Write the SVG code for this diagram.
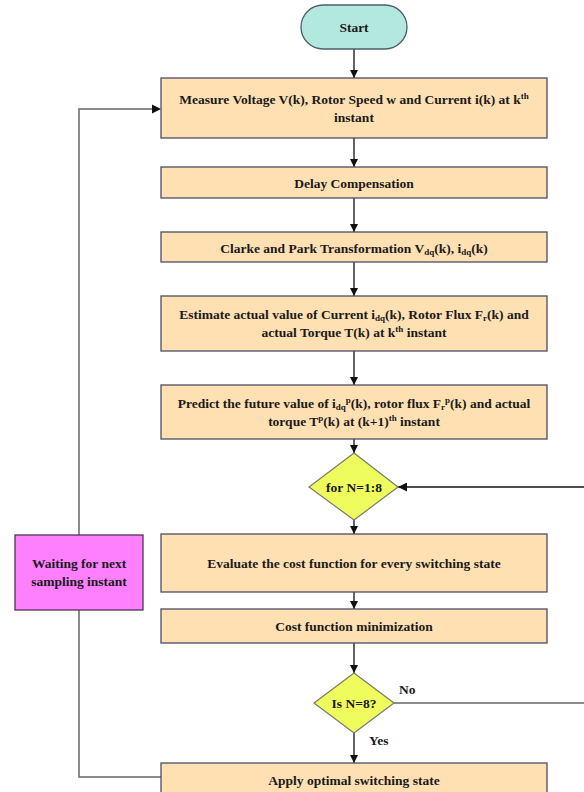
<svg xmlns="http://www.w3.org/2000/svg" width="584" height="792" viewBox="0 0 584 792" font-family="'Liberation Serif', 'DejaVu Serif', serif">
<style>
.box{fill:#FFE0B3;stroke:#4d4d66;stroke-width:1.3}
.dia{fill:#EEFC5E;stroke:#7a7a6a;stroke-width:1.2}
text{font-family:'Liberation Serif','DejaVu Serif',serif}
.t{font-weight:bold;font-size:13.5px;fill:#1a1a1a;text-anchor:middle}
.l{text-anchor:start}
.s{font-size:9px}
.ln{fill:none;stroke:#111;stroke-width:1.3}
.gl{fill:none;stroke:#666;stroke-width:1.5}
</style>
<defs>
<marker id="ah" viewBox="0 0 10 10" refX="10" refY="5" markerWidth="8" markerHeight="8" markerUnits="userSpaceOnUse" orient="auto">
<path d="M0,0 L10,5 L0,10 z" fill="#111"/>
</marker>
<marker id="ahw" viewBox="0 0 10 10" refX="10" refY="5" markerWidth="9" markerHeight="9" markerUnits="userSpaceOnUse" orient="auto">
<path d="M0,0 L10,5 L0,10 z" fill="#111"/>
</marker>
</defs>
<g id="connectors">
<path class="ln" d="M354,49 V78" marker-end="url(#ah)"/>
<path class="ln" d="M354,138 V167" marker-end="url(#ah)"/>
<path class="ln" d="M354,198 V232" marker-end="url(#ah)"/>
<path class="ln" d="M354,262 V296" marker-end="url(#ah)"/>
<path class="ln" d="M354,351 V385" marker-end="url(#ah)"/>
<path class="ln" d="M354,439 V453" marker-end="url(#ah)"/>
<path class="ln" d="M354,520 V534" marker-end="url(#ah)"/>
<path class="ln" d="M354,592 V609" marker-end="url(#ah)"/>
<path class="ln" d="M354,643 V673" marker-end="url(#ah)"/>
<path class="ln" d="M354,733 V763" marker-end="url(#ah)"/>
<path class="ln" d="M590,487 H398" marker-end="url(#ahw)"/>
<path class="gl" d="M394,703 H590"/>
<path class="gl" d="M161,777 H79 V610"/>
<path class="gl" d="M79,535 V109 H152"/>
<path d="M152,104.5 L161,109 L152,113.5 z" fill="#111"/>
<text class="t l" x="399" y="693.5">No</text>
<text class="t l" x="369" y="745">Yes</text>
</g>
<g id="start">
<rect x="301" y="5" width="106" height="44" rx="22" ry="22" fill="#B3E8DF" stroke="#4d5f6a" stroke-width="1.3"/>
<text class="t" x="354" y="32">Start</text>
</g>
<g id="measure">
<rect class="box" x="161" y="78" width="386" height="60"/>
<text class="t" x="354" y="104">Measure Voltage V(k), Rotor Speed w and Current i(k) at k<tspan class="s" dy="-5">th</tspan></text>
<text class="t" x="354" y="122">instant</text>
</g>
<g id="delay">
<rect class="box" x="161" y="167" width="386" height="31"/>
<text class="t" x="354" y="187.5">Delay Compensation</text>
</g>
<g id="clarke">
<rect class="box" x="161" y="232" width="386" height="30"/>
<text class="t" x="354" y="252.5">Clarke and Park Transformation V<tspan class="s" dy="2">dq</tspan><tspan dy="-2">(k), i</tspan><tspan class="s" dy="2">dq</tspan><tspan dy="-2">(k)</tspan></text>
</g>
<g id="estimate">
<rect class="box" x="161" y="296" width="386" height="55"/>
<text class="t" x="354" y="318.5">Estimate actual value of Current i<tspan class="s" dy="2">dq</tspan><tspan dy="-2">(k), Rotor Flux F</tspan><tspan class="s" dy="2">r</tspan><tspan dy="-2">(k) and</tspan></text>
<text class="t" x="354" y="336.5">actual Torque T(k) at k<tspan class="s" dy="-5">th</tspan><tspan dy="5"> instant</tspan></text>
</g>
<g id="predict">
<rect class="box" x="161" y="385" width="386" height="54"/>
<text class="t" x="354" y="407.5">Predict the future value of i<tspan class="s" dy="2">dq</tspan><tspan class="s" dy="-7">p</tspan><tspan dy="5">(k), rotor flux F</tspan><tspan class="s" dy="2">r</tspan><tspan class="s" dy="-7">p</tspan><tspan dy="5">(k) and actual</tspan></text>
<text class="t" x="354" y="425.5">torque T<tspan class="s" dy="-5">p</tspan><tspan dy="5">(k) at (k+1)</tspan><tspan class="s" dy="-5">th</tspan><tspan dy="5"> instant</tspan></text>
</g>
<g id="forN">
<polygon class="dia" points="354,453 398,487 354,520 309,487"/>
<text class="t" x="354" y="491.5">for N=1:8</text>
</g>
<g id="waiting">
<rect x="15" y="535" width="128" height="75" fill="#FF80FF" stroke="#4d3355" stroke-width="1.3"/>
<text class="t" x="79" y="567.5">Waiting for next</text>
<text class="t" x="79" y="585.5">sampling instant</text>
</g>
<g id="evaluate">
<rect class="box" x="161" y="534" width="386" height="58"/>
<text class="t" x="354" y="567.5">Evaluate the cost function for every switching state</text>
</g>
<g id="minimize">
<rect class="box" x="161" y="609" width="386" height="34"/>
<text class="t" x="354" y="630.5">Cost function minimization</text>
</g>
<g id="isN8">
<polygon class="dia" points="354,673 394,703 354,733 314,703"/>
<text class="t" x="354" y="707.5">Is N=8?</text>
</g>
<g id="apply">
<rect class="box" x="161" y="763" width="386" height="40"/>
<text class="t" x="354" y="785">Apply optimal switching state</text>
</g>
</svg>
